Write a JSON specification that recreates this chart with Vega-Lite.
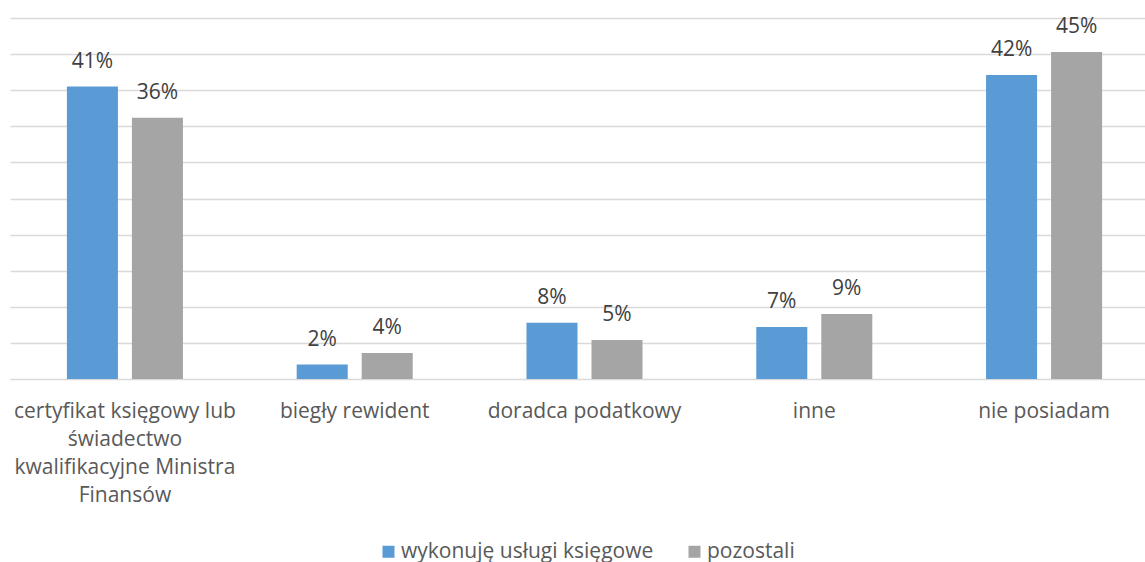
{
  "$schema": "https://vega.github.io/schema/vega-lite/v6.json",
  "width": 1149,
  "height": 361,
  "padding": {"left": 10, "top": 15, "right": 0, "bottom": 0},
  "background": "white",
  "data": {
    "values": [
      {"kat": "certyfikat", "seria": "wykonuję usługi księgowe", "v": 40.5, "lab": "41%"},
      {"kat": "certyfikat", "seria": "pozostali", "v": 36.2, "lab": "36%"},
      {"kat": "biegły rewident", "seria": "wykonuję usługi księgowe", "v": 2.0, "lab": "2%"},
      {"kat": "biegły rewident", "seria": "pozostali", "v": 3.6, "lab": "4%"},
      {"kat": "doradca podatkowy", "seria": "wykonuję usługi księgowe", "v": 7.8, "lab": "8%"},
      {"kat": "doradca podatkowy", "seria": "pozostali", "v": 5.4, "lab": "5%"},
      {"kat": "inne", "seria": "wykonuję usługi księgowe", "v": 7.2, "lab": "7%"},
      {"kat": "inne", "seria": "pozostali", "v": 9.0, "lab": "9%"},
      {"kat": "nie posiadam", "seria": "wykonuję usługi księgowe", "v": 42.1, "lab": "42%"},
      {"kat": "nie posiadam", "seria": "pozostali", "v": 45.3, "lab": "45%"}
    ]
  },
  "encoding": {
    "x": {
      "field": "kat", "type": "nominal", "sort": null, "title": null,
      "scale": {"paddingInner": 0.495, "paddingOuter": 0.2476},
      "axis": {
        "ticks": false, "domain": false, "labelAngle": 0,
        "labelFont": "Open Sans", "labelFontSize": 21, "labelColor": "#595959",
        "labelPadding": 32, "labelLineHeight": 28, "labelBaseline": "middle", "labelLimit": 400,
        "labelExpr": "datum.value == 'certyfikat' ? ['certyfikat księgowy lub', 'świadectwo', 'kwalifikacyjne Ministra', 'Finansów'] : datum.value"
      }
    },
    "xOffset": {"field": "seria", "type": "nominal", "sort": ["wykonuję usługi księgowe", "pozostali"], "scale": {"paddingInner": 0.215}},
    "y": {
      "field": "v", "type": "quantitative", "title": null,
      "scale": {"domain": [0, 50], "nice": false},
      "axis": {"values": [0, 5, 10, 15, 20, 25, 30, 35, 40, 45, 50], "labels": false, "ticks": false, "domain": false, "gridColor": "#d9d9d9", "gridWidth": 1.3}
    }
  },
  "layer": [
    {
      "mark": {"type": "bar"},
      "encoding": {
        "color": {
          "field": "seria", "type": "nominal", "sort": ["wykonuję usługi księgowe", "pozostali"],
          "scale": {"domain": ["wykonuję usługi księgowe", "pozostali"], "range": ["#5b9bd5", "#a5a5a5"]},
          "legend": {
            "title": null, "orient": "none", "legendX": 368, "legendY": 523, "direction": "horizontal",
            "symbolType": "square", "symbolSize": 144, "symbolStrokeWidth": 0,
            "labelFont": "Open Sans", "labelFontSize": 21, "labelColor": "#595959", "labelLimit": 400,
            "labelOffset": 2, "columnPadding": 30
          }
        }
      }
    },
    {
      "mark": {"type": "text", "baseline": "alphabetic", "dy": -19, "font": "Open Sans", "fontSize": 21, "color": "#404040"},
      "encoding": {"text": {"field": "lab"}}
    }
  ],
  "config": {"view": {"stroke": null}}
}
